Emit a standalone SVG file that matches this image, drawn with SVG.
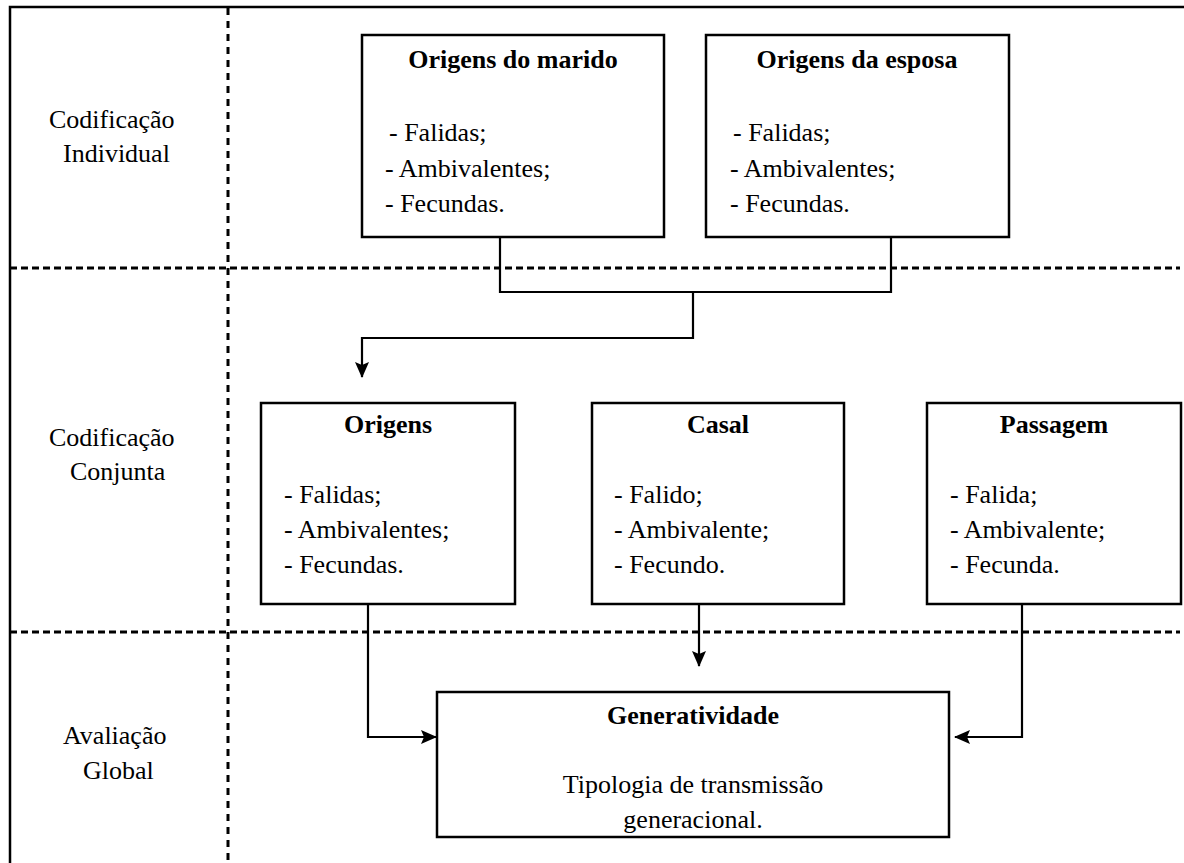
<svg xmlns="http://www.w3.org/2000/svg" width="1184" height="863" viewBox="0 0 1184 863">
<style>
text{font-family:"Liberation Serif","Times New Roman",serif;font-size:26px;fill:#000}
.b{font-weight:bold;text-anchor:middle}
.c{text-anchor:middle}
.box{fill:#fff;stroke:#000;stroke-width:2.5}
.dh{stroke:#000;stroke-width:3;stroke-dasharray:7 4;fill:none}
.dv{stroke:#000;stroke-width:3;stroke-dasharray:7 6;fill:none}
.con{stroke:#000;stroke-width:2.2;fill:none}
</style>
<defs>
<marker id="ah" viewBox="0 0 16 14" refX="15" refY="7" markerWidth="16" markerHeight="14" markerUnits="userSpaceOnUse" orient="auto">
<path d="M0,0 L16,7 L0,14 L3,7 z" fill="#000"/>
</marker>
</defs>
<rect width="1184" height="863" fill="#fff"/>
<g id="frame">
<path d="M10,863 L10,7 L1184,7" fill="none" stroke="#000" stroke-width="2.5"/>
<line class="dv" x1="228" y1="8" x2="228" y2="863"/>
<line class="dh" x1="10" y1="268" x2="1180" y2="268"/>
<line class="dh" x1="10" y1="632" x2="1180" y2="632"/>
</g>
<g id="labels">
<text x="49" y="128">Codificação</text>
<text x="63" y="162">Individual</text>
<text x="49" y="446">Codificação</text>
<text x="70" y="480">Conjunta</text>
<text x="63" y="744">Avaliação</text>
<text x="83" y="779">Global</text>
</g>
<g id="connectors">
<path class="con" d="M500,237 L500,292 L891,292 L891,237"/>
<path class="con" d="M693,292 L693,338 L362,338 L362,377" marker-end="url(#ah)"/>
<path class="con" d="M368,604 L368,737 L436,737" marker-end="url(#ah)"/>
<path class="con" d="M699,604 L699,666" marker-end="url(#ah)"/>
<path class="con" d="M1022,604 L1022,737 L955,737" marker-end="url(#ah)"/>
</g>
<g id="marido">
<rect class="box" x="362" y="35" width="302" height="202"/>
<text class="b" x="513" y="68">Origens do marido</text>
<text x="389" y="141">- Falidas;</text>
<text x="385" y="177">- Ambivalentes;</text>
<text x="385" y="212">- Fecundas.</text>
</g>
<g id="esposa">
<rect class="box" x="706" y="35" width="303" height="202"/>
<text class="b" x="857" y="68">Origens da esposa</text>
<text x="733" y="141">- Falidas;</text>
<text x="730" y="177">- Ambivalentes;</text>
<text x="730" y="212">- Fecundas.</text>
</g>
<g id="origens">
<rect class="box" x="261" y="403" width="254" height="201"/>
<text class="b" x="388" y="433">Origens</text>
<text x="284" y="503">- Falidas;</text>
<text x="284" y="538">- Ambivalentes;</text>
<text x="284" y="573">- Fecundas.</text>
</g>
<g id="casal">
<rect class="box" x="592" y="403" width="252" height="201"/>
<text class="b" x="718" y="433">Casal</text>
<text x="614" y="503">- Falido;</text>
<text x="614" y="538">- Ambivalente;</text>
<text x="614" y="573">- Fecundo.</text>
</g>
<g id="passagem">
<rect class="box" x="927" y="403" width="254" height="201"/>
<text class="b" x="1054" y="433">Passagem</text>
<text x="950" y="503">- Falida;</text>
<text x="950" y="538">- Ambivalente;</text>
<text x="950" y="573">- Fecunda.</text>
</g>
<g id="generatividade">
<rect class="box" x="437" y="692" width="512" height="145"/>
<text class="b" x="693" y="724">Generatividade</text>
<text class="c" x="693" y="793">Tipologia de transmissão</text>
<text class="c" x="693" y="828">generacional.</text>
</g>
</svg>
